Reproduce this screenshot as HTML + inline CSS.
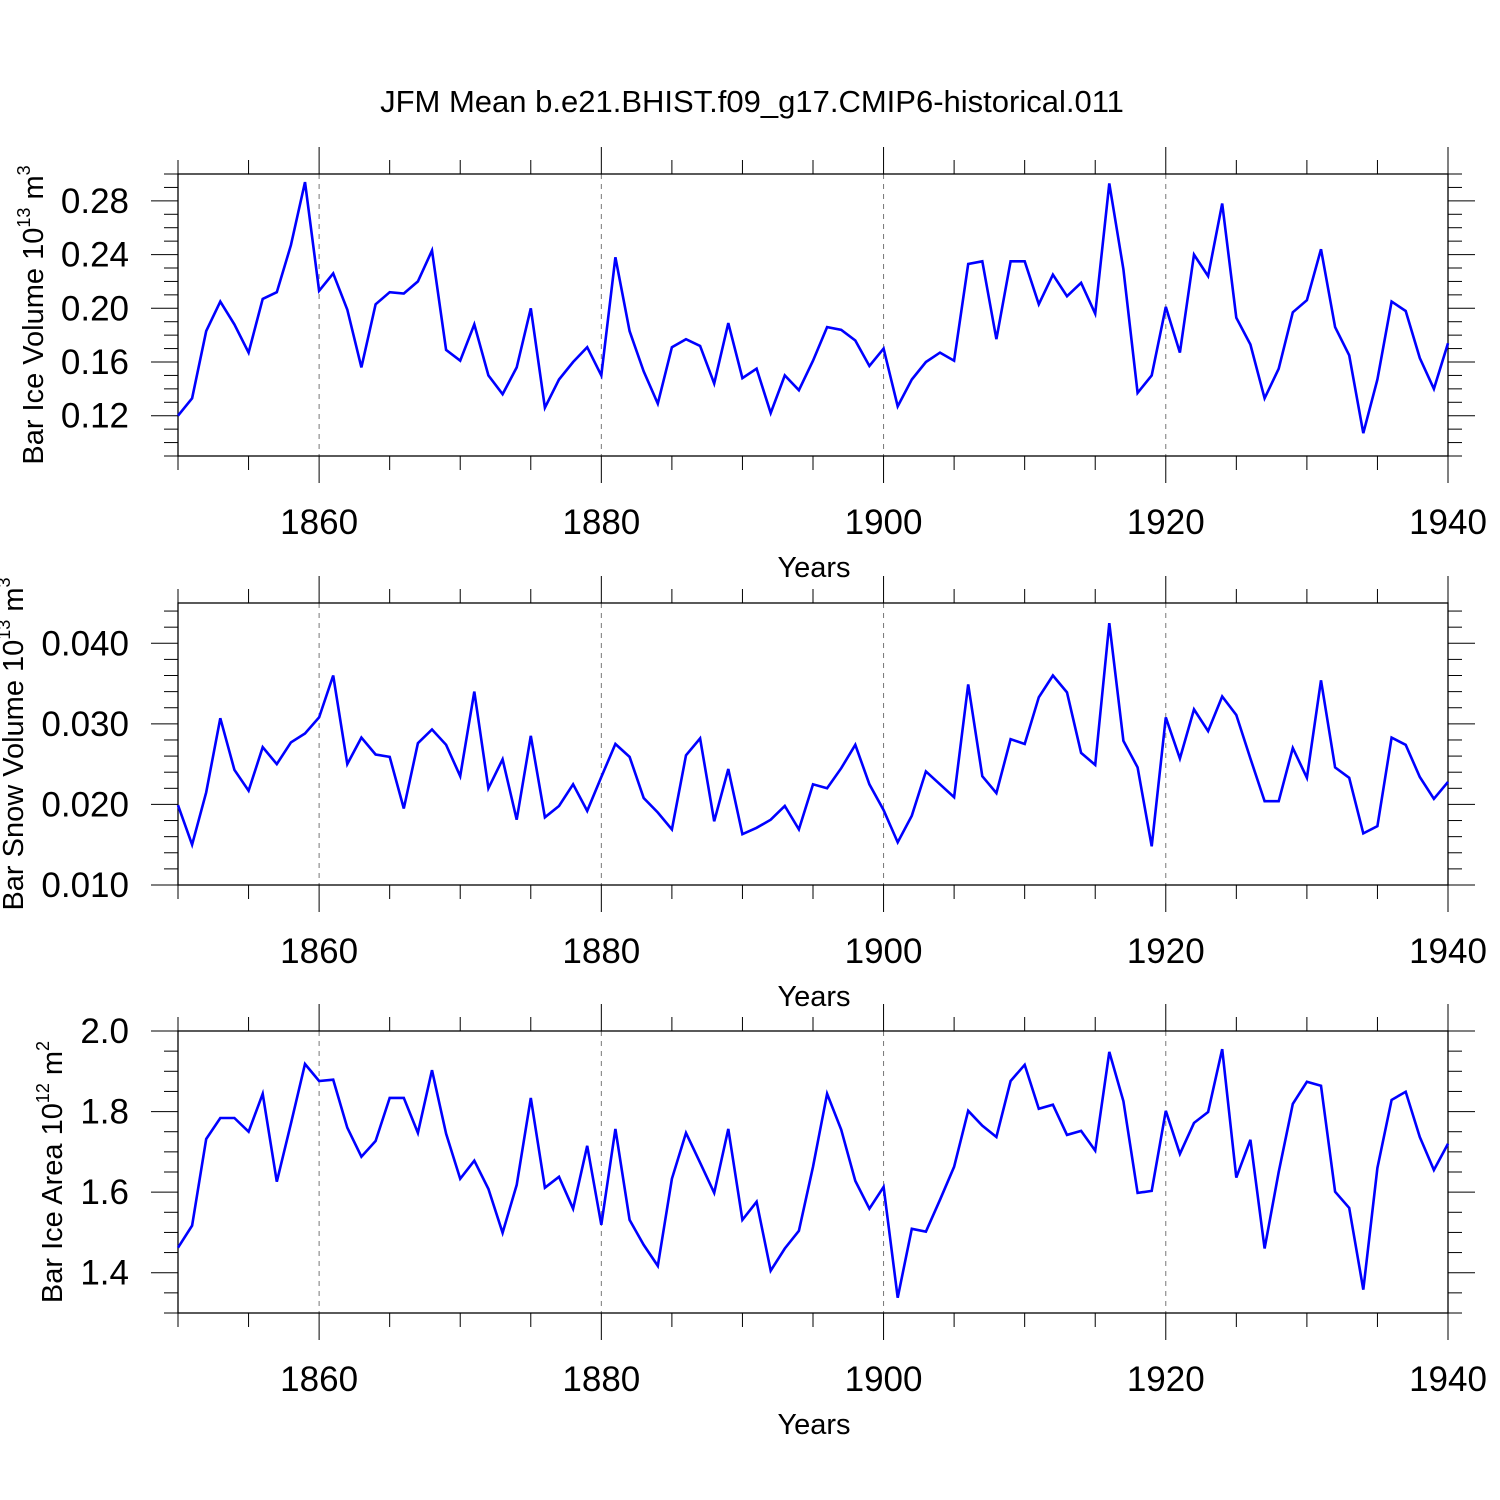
<!DOCTYPE html>
<html><head><meta charset="utf-8"><style>
html,body{margin:0;padding:0;background:#fff;}
svg{display:block;font-family:"Liberation Sans",sans-serif;}
</style></head><body>
<svg id="chart" width="1500" height="1500" xmlns="http://www.w3.org/2000/svg">
<text x="752" y="112" font-size="31" text-anchor="middle">JFM Mean b.e21.BHIST.f09_g17.CMIP6-historical.011</text>
</svg>
<script>
const years = [];
for (let y = 1850; y <= 1940; y++) years.push(y);
const iceVolume = [0.120,0.133,0.183,0.205,0.188,0.167,0.207,0.212,0.247,0.294,0.213,0.226,0.199,0.156,0.203,0.212,0.211,0.220,0.243,0.169,0.161,0.188,0.150,0.136,0.156,0.200,0.126,0.147,0.160,0.171,0.150,0.238,0.183,0.153,0.129,0.171,0.177,0.172,0.144,0.189,0.148,0.155,0.122,0.150,0.139,0.161,0.186,0.184,0.176,0.157,0.170,0.127,0.147,0.160,0.167,0.161,0.233,0.235,0.177,0.235,0.235,0.203,0.225,0.209,0.219,0.196,0.293,0.229,0.137,0.150,0.201,0.167,0.240,0.224,0.278,0.193,0.173,0.133,0.155,0.197,0.206,0.244,0.186,0.165,0.107,0.147,0.205,0.198,0.163,0.140,0.174];
const snowVolume = [0.0199,0.0150,0.0215,0.0307,0.0243,0.0217,0.0271,0.0250,0.0277,0.0288,0.0308,0.0360,0.0250,0.0283,0.0262,0.0259,0.0195,0.0276,0.0293,0.0274,0.0235,0.0340,0.0220,0.0256,0.0181,0.0285,0.0184,0.0198,0.0225,0.0192,0.0234,0.0275,0.0259,0.0208,0.0190,0.0169,0.0261,0.0282,0.0179,0.0244,0.0163,0.0171,0.0181,0.0198,0.0169,0.0225,0.0220,0.0245,0.0274,0.0225,0.0193,0.0153,0.0186,0.0241,0.0225,0.0209,0.0349,0.0235,0.0214,0.0281,0.0275,0.0333,0.0360,0.0339,0.0264,0.0249,0.0425,0.0279,0.0246,0.0148,0.0308,0.0257,0.0318,0.0291,0.0334,0.0311,0.0257,0.0204,0.0204,0.0270,0.0233,0.0354,0.0246,0.0233,0.0164,0.0173,0.0283,0.0274,0.0234,0.0207,0.0228];
const iceArea = [1.462,1.517,1.732,1.784,1.784,1.750,1.844,1.626,1.770,1.918,1.876,1.879,1.760,1.688,1.727,1.834,1.834,1.747,1.903,1.745,1.633,1.678,1.608,1.499,1.618,1.834,1.611,1.638,1.559,1.715,1.519,1.757,1.531,1.469,1.417,1.633,1.747,1.673,1.598,1.757,1.531,1.576,1.405,1.460,1.504,1.663,1.844,1.755,1.628,1.559,1.613,1.338,1.509,1.502,1.581,1.663,1.802,1.765,1.737,1.876,1.916,1.807,1.817,1.742,1.752,1.703,1.948,1.826,1.598,1.603,1.802,1.695,1.772,1.799,1.955,1.636,1.730,1.460,1.650,1.819,1.874,1.864,1.601,1.561,1.358,1.660,1.829,1.849,1.737,1.655,1.720];
const xTicks = [1860,1880,1900,1920,1940];
const iceVolTicks = ["0.12","0.16","0.20","0.24","0.28"];
const snowTicks = ["0.010","0.020","0.030","0.040"];
const areaTicks = ["1.4","1.6","1.8","2.0"];

const NS = "http://www.w3.org/2000/svg";
const svg = document.getElementById('chart');
const X0 = 178, X1 = 1448;
function xScale(yr){ return X0 + (yr - 1850) / 90 * (X1 - X0); }
function mk(tag, attrs, parent){
  const e = document.createElementNS(NS, tag);
  for (const k in attrs) e.setAttribute(k, attrs[k]);
  (parent || svg).appendChild(e);
  return e;
}
function panel(cfg){
  const g = mk('g', {});
  
  
  const T = cfg.top, B = cfg.top + 282;
  const yScale = v => B - (v - cfg.min) / (cfg.max - cfg.min) * (B - T);
  xTicks.forEach(t => {
    if (t === 1940) return;
    const l = mk('line', {x1:xScale(t), x2:xScale(t), y1:T, y2:B, stroke:'#777', 'stroke-width':1, 'stroke-dasharray':'5,5'}, g);
    
    
  });
  for (let yr = 1850; yr <= 1940; yr += 5) {
    const major = yr % 20 === 0;
    const len = major ? 27 : 14;
    mk('line', {x1:xScale(yr), x2:xScale(yr), y1:T-len, y2:T, stroke:'#000', 'stroke-width':1}, g);
    mk('line', {x1:xScale(yr), x2:xScale(yr), y1:B, y2:B+len, stroke:'#000', 'stroke-width':1}, g);
  }
  const n = Math.round((cfg.max - cfg.min) / cfg.minor);
  for (let i = 0; i <= n; i++) {
    const v = cfg.min + i * cfg.minor;
    const r = (v - cfg.majorStart) / cfg.major;
    const major = Math.abs(r - Math.round(r)) < 1e-6 && v >= cfg.majorStart - 1e-9;
    const len = major ? 27 : 14;
    const y = yScale(v);
    mk('line', {x1:X0-len, x2:X0, y1:y, y2:y, stroke:'#000', 'stroke-width':1}, g);
    mk('line', {x1:X1, x2:X1+len, y1:y, y2:y, stroke:'#000', 'stroke-width':1}, g);
  }
  const f = mk('rect', {x:X0, y:T, width:X1-X0, height:B-T, fill:'none', stroke:'#000', 'stroke-width':1.3}, g);
  
  
  cfg.labels.forEach(s => {
    const t = mk('text', {x:129, y:yScale(parseFloat(s))+12, 'font-size':35, 'text-anchor':'end'}, g);
    t.textContent = s;
    
    
  });
  xTicks.forEach(tk => {
    const t = mk('text', {x:xScale(tk), y:B+78, 'font-size':35, 'text-anchor':'middle'}, g);
    t.textContent = tk;
    
    
  });
  const xt = mk('text', {x:814, y:B+121, 'font-size':29, 'text-anchor':'middle'}, g);
  xt.textContent = 'Years';
  
  
  const yt = mk('text', {transform:`translate(${cfg.titleX},${(T+B)/2}) rotate(-90)`, 'font-size':29, 'text-anchor':'middle'}, g);
  
  
  yt.innerHTML = cfg.title + ' 10<tspan font-size="18" dy="-13">' + cfg.exp + '</tspan><tspan dy="13"> m</tspan><tspan font-size="18" dy="-13">' + cfg.unitExp + '</tspan>';
  const pts = cfg.data.map((v, i) => xScale(years[i]).toFixed(1) + ',' + yScale(v).toFixed(1)).join(' ');
  const pl = mk('polyline', {points:pts, fill:'none', stroke:'#0000ff', 'stroke-width':2.6, 'stroke-linejoin':'miter'}, g);
  
  
}
panel({name:'ice-volume-panel', top:174, min:0.09, max:0.30, minor:0.01, major:0.04, majorStart:0.12, labels:iceVolTicks, data:iceVolume, title:'Bar Ice Volume', exp:'13', unitExp:'3', titleX:43});
panel({name:'snow-volume-panel', top:603, min:0.010, max:0.045, minor:0.002, major:0.01, majorStart:0.010, labels:snowTicks, data:snowVolume, title:'Bar Snow Volume', exp:'13', unitExp:'3', titleX:23});
panel({name:'ice-area-panel', top:1031, min:1.3, max:2.0, minor:0.05, major:0.2, majorStart:1.4, labels:areaTicks, data:iceArea, title:'Bar Ice Area', exp:'12', unitExp:'2', titleX:62});
</script>
</body></html>
